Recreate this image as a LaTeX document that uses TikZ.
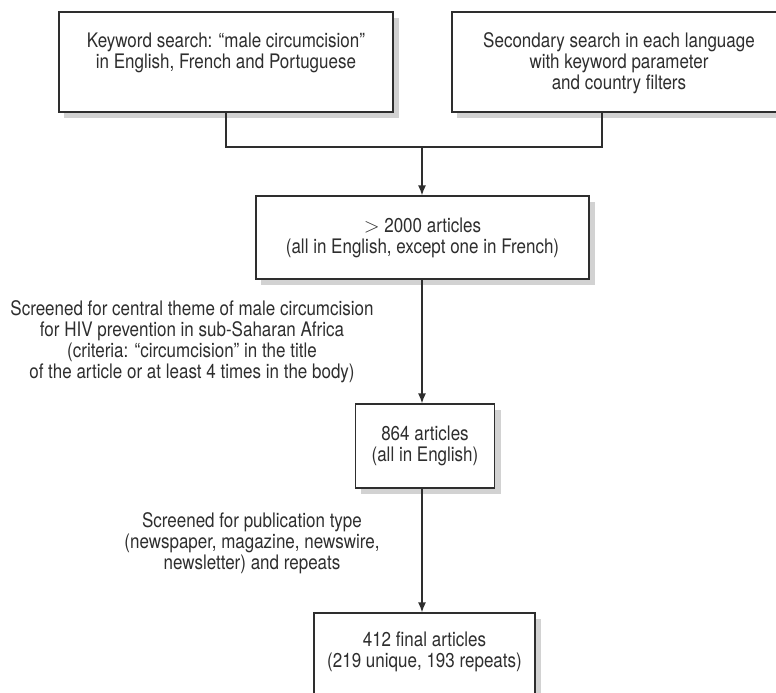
\documentclass[tikz,border=0pt]{standalone}
\usepackage{fontspec}
\setmainfont{TeX Gyre Heros}[FakeStretch=0.85]
\usetikzlibrary{positioning,arrows.meta}
\definecolor{inkgray}{HTML}{2E2E2E}
\definecolor{shadegray}{HTML}{D2D2D2}
\begin{document}
\begin{tikzpicture}[x=1pt, y=-1pt]
    \tikzstyle{box_style}=[rectangle, draw=inkgray, line width=1.3pt, fill=white, inner sep=0pt]
    \tikzstyle{shade_style}=[rectangle, draw=none, fill=shadegray, inner sep=0pt]
    \tikzstyle{text_style}=[align=center, text=inkgray, inner sep=0pt, font=\fontsize{20}{21}\selectfont]
    \tikzstyle{line_style}=[draw=inkgray, line width=1.3pt]
    \tikzstyle{arrow_style}=[line_style, -{Latex[length=10pt, width=8pt]}]

    \useasboundingbox (0, 0) rectangle (776, 693);

    % shadows
    \node at (231.5, 68) [shade_style, minimum width=335pt, minimum height=100pt] (search_key_shade) {};
    \node at (624.5, 68) [shade_style, minimum width=335pt, minimum height=100pt] (search_sec_shade) {};
    \node at (428, 243.5) [shade_style, minimum width=334pt, minimum height=83pt] (hits_all_shade) {};
    \node at (430.5, 452) [shade_style, minimum width=140pt, minimum height=84pt] (hits_en_shade) {};
    \node at (430, 661) [shade_style, minimum width=222pt, minimum height=84pt] (hits_final_shade) {};

    % searches
    \node at (226, 62) [box_style, minimum width=334pt, minimum height=100pt] (search_key) {};
    \node at (226, 53) [text_style] (search_key_text) {Keyword search: “male circumcision”\\in English, French and Portuguese};
    \node at (619, 62) [box_style, minimum width=334pt, minimum height=100pt] (search_sec) {};
    \node at (619, 63) [text_style] (search_sec_text) {Secondary search in each language\\with keyword parameter\\and country filters};

    % articles
    \node at (422.5, 237.5) [box_style, text_style, minimum width=333pt, minimum height=83pt] (hits_all) {$>$ 2000 articles\\(all in English, except one in French)};
    \node at (425, 446) [box_style, text_style, minimum width=139pt, minimum height=84pt] (hits_en) {864 articles\\(all in English)};
    \node at (424.5, 655) [box_style, minimum width=221pt, minimum height=84pt] (hits_final) {};
    \node at (424.5, 652) [text_style] (hits_final_text) {412 final articles\\(219 unique, 193 repeats)};

    % screening notes
    \node at (192, 342) [text_style] (screen_theme) {Screened for central theme of male circumcision\\for HIV prevention in sub-Saharan Africa\\(criteria: “circumcision” in the title\\of the article or at least 4 times in the body)};
    \node at (252, 543) [text_style] (screen_type) {Screened for publication type\\(newspaper, magazine, newswire,\\newsletter) and repeats};

    % connect: searches -> merge
    \coordinate (merge) at (422, 147);
    \coordinate (search_sec_foot) at (602, 112);
    \path[line_style] (search_key.south) |- (merge) -| (search_sec_foot);

    % connect: merge -> articles
    \path[arrow_style] (merge) -- (merge |- hits_all.north);
    \path[arrow_style] (merge |- hits_all.south) -- (merge |- hits_en.north);
    \path[arrow_style] (merge |- hits_en.south) -- (merge |- hits_final.north);

\end{tikzpicture}
\end{document}
